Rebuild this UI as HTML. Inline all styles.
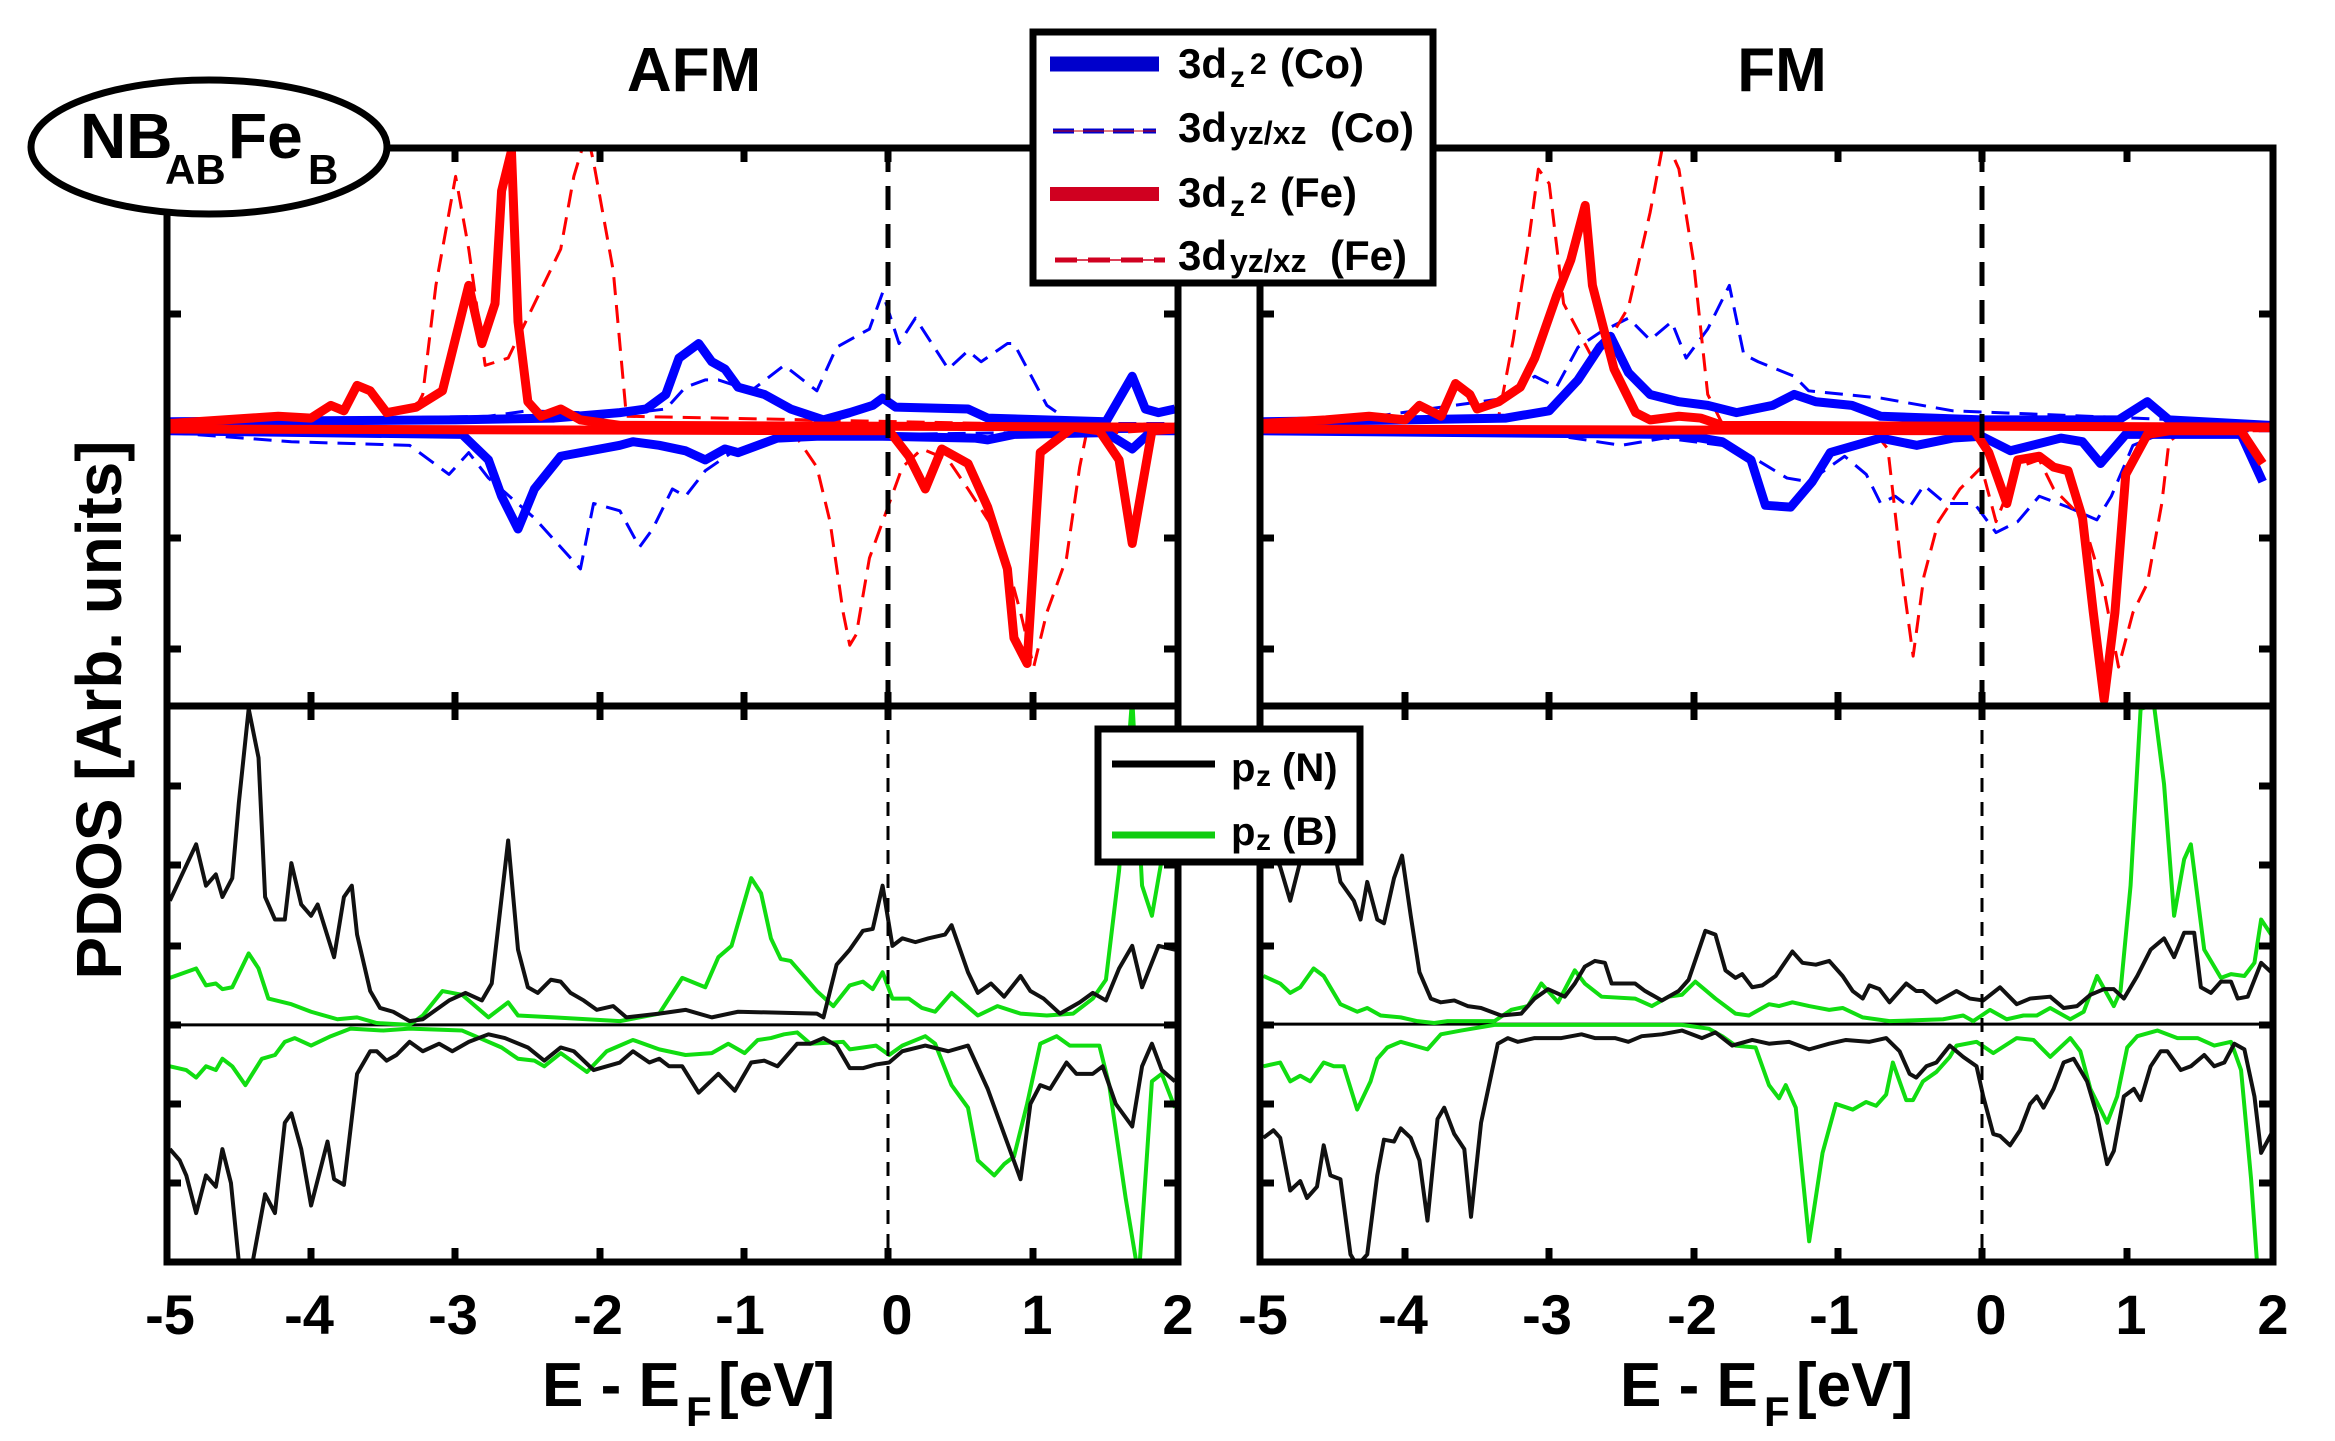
<!DOCTYPE html>
<html><head><meta charset="utf-8"><style>
html,body{margin:0;padding:0;background:#fff;}
svg{display:block;font-family:"Liberation Sans",Arial,sans-serif;font-weight:bold;}
</style></head><body>
<svg width="2335" height="1441" viewBox="0 0 2335 1441" xmlns="http://www.w3.org/2000/svg">
<defs>
<clipPath id="cA"><rect x="167" y="148" width="1011" height="558"/></clipPath>
<clipPath id="cB"><rect x="1260" y="148" width="1013" height="558"/></clipPath>
<clipPath id="cC"><rect x="167" y="706" width="1011" height="556"/></clipPath>
<clipPath id="cD"><rect x="1260" y="706" width="1013" height="556"/></clipPath>
</defs>
<rect width="2335" height="1441" fill="#fff"/>

<!-- AFM top -->
<g clip-path="url(#cA)"><g transform="translate(160,140) scale(0.6569,0.3635)" fill="none" stroke-linejoin="round">
<line x1="0" y1="790" x2="1568" y2="790" stroke="#000" stroke-width="2" vector-effect="non-scaling-stroke"/>
<polyline stroke="#00f" stroke-width="3" stroke-dasharray="18,10" vector-effect="non-scaling-stroke" points="15,775 500,760 560,745 640,750 700,755 770,740 800,680 830,660 850,660 900,690 950,620 1000,690 1030,570 1080,520 1100,420 1125,560 1150,490 1200,630 1230,580 1250,610 1290,560 1300,560 1350,730 1390,780 1440,780 1545,780"/>
<polyline stroke="#00f" stroke-width="3" stroke-dasharray="18,10" vector-effect="non-scaling-stroke" points="15,805 200,830 380,840 440,920 470,860 500,930 570,1040 600,1100 640,1180 660,1000 700,1020 730,1120 750,1070 780,960 800,980 830,910 870,860 920,830 960,820 1000,815 1100,810 1545,800"/>
<polyline stroke="#f00" stroke-width="3" stroke-dasharray="18,10" vector-effect="non-scaling-stroke" points="15,785 380,770 400,700 420,400 450,100 470,300 495,620 530,600 570,450 610,300 630,100 650,-20 660,60 690,360 710,760 1545,790"/>
<polyline stroke="#f00" stroke-width="3" stroke-dasharray="18,10" vector-effect="non-scaling-stroke" points="15,795 950,800 970,820 1000,900 1020,1050 1040,1300 1050,1390 1060,1360 1080,1150 1100,1050 1130,900 1160,850 1200,880 1230,960 1280,1100 1310,1300 1330,1450 1350,1300 1380,1150 1400,900 1410,810 1545,795"/>
<polyline stroke="#00f" stroke-width="9" vector-effect="non-scaling-stroke" points="15,775 450,770 600,765 700,750 740,740 770,700 790,600 820,560 840,610 860,630 880,680 920,700 960,740 1010,770 1050,750 1085,730 1100,710 1120,735 1230,740 1260,765 1440,775 1480,650 1500,740 1520,750 1545,740"/>
<polyline stroke="#00f" stroke-width="9" vector-effect="non-scaling-stroke" points="15,800 460,810 500,880 520,980 545,1070 570,960 610,870 700,840 720,830 760,840 800,855 830,880 860,850 880,860 940,820 1000,815 1100,815 1240,820 1260,825 1300,810 1440,805 1480,850 1510,800 1545,800"/>
<polyline stroke="#f00" stroke-width="9" vector-effect="non-scaling-stroke" points="15,780 180,760 230,765 260,730 280,745 300,675 320,690 345,750 390,735 430,690 470,400 490,560 510,450 520,140 535,30 545,500 560,720 580,760 610,740 640,770 700,785 1545,790"/>
<polyline stroke="#f00" stroke-width="9" vector-effect="non-scaling-stroke" points="15,795 1110,800 1140,870 1165,960 1190,850 1230,890 1260,1010 1290,1180 1300,1370 1320,1440 1340,860 1390,790 1430,800 1460,880 1480,1110 1510,800 1545,795"/>
</g></g>

<!-- FM top -->
<g clip-path="url(#cB)"><g transform="translate(1160,140) scale(0.7207,0.3635)" fill="none" stroke-linejoin="round">
<line x1="0" y1="790" x2="1568" y2="790" stroke="#000" stroke-width="2" vector-effect="non-scaling-stroke"/>
<polyline stroke="#00f" stroke-width="3" stroke-dasharray="18,10" vector-effect="non-scaling-stroke" points="140,775 300,760 480,710 520,650 550,680 580,570 610,530 650,490 680,550 710,500 730,600 760,520 790,400 810,590 830,610 880,650 900,690 1000,710 1100,745 1540,780"/>
<polyline stroke="#00f" stroke-width="3" stroke-dasharray="18,10" vector-effect="non-scaling-stroke" points="140,800 540,810 640,840 700,820 780,840 820,870 870,930 900,940 950,870 980,920 1000,1000 1020,980 1040,1010 1060,950 1090,1000 1130,1000 1160,1080 1190,1050 1220,980 1260,1010 1300,1045 1320,980 1350,840 1400,800 1540,800"/>
<polyline stroke="#f00" stroke-width="3" stroke-dasharray="18,10" vector-effect="non-scaling-stroke" points="140,780 470,760 490,550 510,300 525,80 540,120 560,450 600,600 620,560 650,460 680,200 700,-10 720,80 740,330 760,700 780,780 1540,790"/>
<polyline stroke="#f00" stroke-width="3" stroke-dasharray="18,10" vector-effect="non-scaling-stroke" points="140,795 990,800 1010,850 1030,1200 1045,1420 1060,1200 1080,1050 1110,960 1140,900 1160,1050 1190,900 1220,880 1240,960 1280,1040 1310,1240 1330,1450 1350,1300 1370,1220 1390,1000 1400,830 1420,800 1540,800"/>
<polyline stroke="#00f" stroke-width="9" vector-effect="non-scaling-stroke" points="140,775 340,770 480,765 540,745 580,660 610,570 625,540 650,640 680,700 720,720 760,730 800,750 850,730 880,700 910,720 960,730 1000,760 1140,770 1330,770 1370,720 1400,770 1540,785"/>
<polyline stroke="#00f" stroke-width="9" vector-effect="non-scaling-stroke" points="140,800 720,810 780,830 820,880 840,1005 875,1010 905,940 930,860 1000,820 1050,840 1100,820 1140,815 1180,855 1250,820 1280,830 1305,890 1340,810 1500,810 1530,940"/>
<polyline stroke="#f00" stroke-width="9" vector-effect="non-scaling-stroke" points="140,780 230,770 290,760 340,770 360,730 390,760 410,670 430,700 440,740 470,720 500,680 520,600 550,430 570,330 590,180 600,400 630,630 660,750 680,770 720,760 750,765 780,785 1540,790"/>
<polyline stroke="#f00" stroke-width="9" vector-effect="non-scaling-stroke" points="140,795 1130,800 1150,860 1175,1000 1190,880 1220,870 1240,900 1260,910 1280,1040 1295,1300 1310,1540 1325,1300 1340,920 1370,810 1400,800 1500,800 1530,890"/>
</g></g>

<!-- AFM bottom -->
<g clip-path="url(#cC)"><g transform="translate(160,690) scale(0.6569,0.3763)" fill="none" stroke-linejoin="round">
<line x1="0" y1="890" x2="1568" y2="890" stroke="#000" stroke-width="3" vector-effect="non-scaling-stroke"/>
<polyline stroke="#11dd11" stroke-width="4" vector-effect="non-scaling-stroke" points="15,765 55,740 70,785 85,780 95,795 110,790 135,700 150,740 165,820 200,835 230,855 270,875 300,870 330,885 380,890 400,865 430,800 460,810 500,870 530,830 545,865 600,870 700,880 760,860 795,765 830,790 850,710 870,680 900,500 915,540 930,660 945,715 960,720 1000,800 1025,840 1050,785 1070,775 1085,795 1100,750 1115,820 1140,820 1160,845 1180,855 1205,805 1245,865 1275,840 1310,860 1350,865 1390,860 1420,820 1440,770 1460,480 1480,20 1495,520 1510,600 1525,450 1545,470"/>
<polyline stroke="#11dd11" stroke-width="4" vector-effect="non-scaling-stroke" points="15,1000 40,1010 55,1030 70,1000 85,1010 95,980 110,1000 130,1050 155,980 175,970 190,935 205,925 230,945 260,920 290,900 340,905 380,900 460,905 480,920 520,950 545,980 570,985 585,1000 610,965 630,990 650,1015 680,960 720,930 760,955 800,970 840,965 865,940 890,965 910,930 930,925 950,915 970,910 990,940 1040,935 1050,955 1090,945 1110,970 1130,945 1165,920 1180,940 1205,1050 1230,1110 1245,1250 1270,1290 1285,1260 1300,1240 1320,1100 1340,940 1365,920 1385,945 1430,945 1445,1050 1470,1350 1490,1560 1500,1300 1510,1040 1525,1020 1545,1110"/>
<polyline stroke="#111" stroke-width="4" vector-effect="non-scaling-stroke" points="15,560 55,410 70,520 85,490 95,550 110,500 120,300 135,50 150,180 160,550 175,610 190,610 200,460 215,570 230,600 240,570 265,710 280,550 292,520 300,650 320,800 335,845 355,855 380,880 400,875 420,850 440,825 465,805 490,825 505,780 530,400 545,690 560,790 575,805 595,770 610,775 625,805 645,825 665,850 690,840 710,870 760,860 800,850 840,870 880,855 1000,860 1010,870 1030,730 1050,690 1070,640 1085,635 1100,520 1115,680 1130,660 1150,670 1170,660 1195,650 1205,625 1230,750 1245,805 1265,780 1285,815 1310,760 1325,800 1345,820 1370,860 1400,830 1420,805 1440,825 1460,740 1480,680 1495,790 1520,680 1545,690"/>
<polyline stroke="#111" stroke-width="4" vector-effect="non-scaling-stroke" points="15,1220 30,1250 40,1290 55,1390 70,1290 85,1320 95,1220 108,1310 120,1520 140,1530 160,1340 175,1390 190,1150 200,1125 215,1220 230,1370 255,1200 265,1300 280,1315 300,1020 320,960 330,960 345,985 360,970 380,935 400,960 425,940 445,960 470,935 500,915 525,925 560,950 585,985 610,950 630,960 660,1010 700,990 720,960 745,990 760,980 775,1000 795,1000 820,1070 850,1020 875,1065 900,990 920,985 940,1000 970,940 990,940 1010,925 1030,945 1050,1005 1070,1005 1090,995 1110,990 1130,960 1165,945 1200,960 1230,945 1260,1060 1285,1180 1310,1300 1325,1100 1340,1050 1355,1060 1380,990 1395,1020 1420,1020 1435,1000 1455,1100 1480,1160 1495,1000 1510,940 1525,1010 1545,1040"/>
</g></g>

<!-- FM bottom -->
<g clip-path="url(#cD)"><g transform="translate(1240,690) scale(0.6696,0.3763)" fill="none" stroke-linejoin="round">
<line x1="0" y1="888" x2="1568" y2="888" stroke="#000" stroke-width="3" vector-effect="non-scaling-stroke"/>
<polyline stroke="#11dd11" stroke-width="4" vector-effect="non-scaling-stroke" points="35,760 60,780 75,805 90,790 110,740 125,760 150,835 175,855 190,845 210,865 240,870 265,880 290,885 310,880 380,880 405,850 430,840 450,780 475,830 500,745 515,780 540,815 590,820 615,840 640,815 660,810 680,775 710,820 740,860 760,865 790,835 805,840 825,830 850,840 880,850 900,845 930,870 970,880 1050,875 1080,865 1095,880 1120,850 1145,875 1170,865 1190,865 1210,845 1240,875 1260,855 1280,760 1305,840 1315,800 1330,520 1345,50 1365,40 1380,250 1395,600 1410,450 1420,410 1440,690 1465,765 1480,755 1500,760 1515,725 1525,610 1540,650"/>
<polyline stroke="#11dd11" stroke-width="4" vector-effect="non-scaling-stroke" points="35,1000 60,990 75,1040 90,1025 105,1040 125,990 140,1000 155,1000 175,1115 195,1040 205,980 220,950 240,935 260,945 280,955 300,915 330,905 380,890 480,890 600,890 660,890 700,900 720,920 740,945 770,950 790,1050 805,1085 815,1050 830,1110 850,1465 870,1230 890,1100 915,1115 935,1095 950,1105 965,1075 975,990 995,1090 1005,1090 1020,1040 1040,1015 1060,975 1070,945 1100,935 1125,965 1160,925 1185,930 1210,975 1240,925 1255,960 1270,1060 1295,1150 1310,1080 1325,950 1340,920 1370,905 1400,925 1430,925 1455,945 1480,935 1495,1010 1510,1300 1520,1550"/>
<polyline stroke="#111" stroke-width="4" vector-effect="non-scaling-stroke" points="35,380 60,470 75,560 95,420 140,420 150,510 170,560 180,610 190,510 205,610 215,620 230,500 242,440 255,600 268,750 285,820 300,830 320,825 340,840 360,845 390,865 420,860 440,820 460,795 485,815 500,780 515,735 530,720 545,725 555,780 590,780 605,800 630,825 655,800 670,770 695,640 710,650 725,745 740,765 750,755 765,790 780,785 800,760 825,695 840,725 860,730 880,720 900,760 915,800 930,820 940,785 955,795 970,830 995,780 1010,800 1020,800 1040,830 1070,800 1090,820 1110,825 1135,790 1160,835 1180,820 1210,815 1230,845 1250,840 1270,810 1290,795 1305,795 1320,820 1340,760 1360,690 1380,660 1395,710 1410,645 1425,645 1435,790 1450,805 1465,775 1480,775 1490,820 1505,815 1525,725 1540,750"/>
<polyline stroke="#111" stroke-width="4" vector-effect="non-scaling-stroke" points="35,1190 50,1170 60,1190 75,1330 90,1305 100,1350 115,1320 125,1210 135,1290 150,1300 165,1500 175,1530 190,1500 205,1290 215,1195 230,1200 240,1165 255,1190 268,1250 280,1410 295,1140 305,1110 320,1180 335,1220 345,1400 360,1150 385,940 400,925 415,935 440,925 480,925 510,915 530,925 560,925 580,935 600,920 630,915 660,905 690,925 710,910 735,945 765,930 790,940 820,935 850,955 880,940 905,930 940,935 965,925 985,960 1000,1020 1010,1030 1025,1000 1040,990 1060,945 1080,975 1100,1000 1110,1080 1125,1180 1135,1185 1150,1210 1165,1170 1180,1100 1190,1080 1200,1110 1215,1060 1230,990 1245,980 1265,1040 1280,1130 1295,1260 1305,1225 1320,1080 1335,1060 1345,1090 1360,1000 1375,960 1385,960 1405,1010 1420,1000 1440,970 1455,1000 1470,990 1485,940 1500,955 1515,1080 1525,1230 1540,1180"/>
</g></g>

<!-- Fermi lines -->
<line x1="888" y1="148" x2="888" y2="706" stroke="#000" stroke-width="5" stroke-dasharray="24,14"/>
<line x1="1982" y1="148" x2="1982" y2="706" stroke="#000" stroke-width="5" stroke-dasharray="24,14"/>
<line x1="888" y1="706" x2="888" y2="1262" stroke="#000" stroke-width="3" stroke-dasharray="14,10"/>
<line x1="1982" y1="706" x2="1982" y2="1262" stroke="#000" stroke-width="3" stroke-dasharray="14,10"/>

<!-- ticks -->
<g stroke="#000" stroke-width="7">
<path d="M311,148v14M455,148v14M600,148v14M744,148v14M888,148v14M1033,148v14
M311,706v-14M455,706v-14M600,706v-14M744,706v-14M888,706v-14M1033,706v-14
M311,706v14M455,706v14M600,706v14M744,706v14M888,706v14M1033,706v14
M311,1262v-14M455,1262v-14M600,1262v-14M744,1262v-14M888,1262v-14M1033,1262v-14
M1405,148v14M1549,148v14M1694,148v14M1838,148v14M1982,148v14M2127,148v14
M1405,706v-14M1549,706v-14M1694,706v-14M1838,706v-14M1982,706v-14M2127,706v-14
M1405,706v14M1549,706v14M1694,706v14M1838,706v14M1982,706v14M2127,706v14
M1405,1262v-14M1549,1262v-14M1694,1262v-14M1838,1262v-14M1982,1262v-14M2127,1262v-14
M167,314h14M167,538h14M167,649h14M1178,314h-14M1178,538h-14M1178,649h-14
M1260,314h14M1260,538h14M1260,649h14M2273,314h-14M2273,538h-14M2273,649h-14
M167,786h14M167,865h14M167,946h14M167,1104h14M167,1183h14M167,1025h14
M1178,786h-14M1178,865h-14M1178,946h-14M1178,1104h-14M1178,1183h-14M1178,1025h-14
M1260,786h14M1260,865h14M1260,946h14M1260,1104h14M1260,1183h14M1260,1025h14
M2273,786h-14M2273,865h-14M2273,946h-14M2273,1104h-14M2273,1183h-14M2273,1025h-14"/>
</g>

<!-- frames -->
<g fill="none" stroke="#000" stroke-width="7">
<rect x="167" y="148" width="1011" height="1114"/>
<line x1="167" y1="706" x2="1178" y2="706"/>
<rect x="1260" y="148" width="1013" height="1114"/>
<line x1="1260" y1="706" x2="2273" y2="706"/>
</g>

<!-- ellipse label -->
<ellipse cx="209" cy="147" rx="178" ry="67" fill="#fff" stroke="#000" stroke-width="7"/>
<text x="80" y="158" font-size="64">NB</text>
<text x="165" y="184" font-size="42">AB</text>
<text x="228" y="158" font-size="64">Fe</text>
<text x="308" y="184" font-size="42">B</text>

<!-- titles -->
<text x="694" y="91" font-size="62" text-anchor="middle">AFM</text>
<text x="1782" y="91" font-size="62" text-anchor="middle">FM</text>

<!-- y label -->
<text transform="translate(121,710) rotate(-90)" font-size="64" text-anchor="middle" textLength="539" lengthAdjust="spacingAndGlyphs">PDOS [Arb. units]</text>

<!-- tick labels -->
<g font-size="56" text-anchor="middle">
<text x="170" y="1334">-5</text><text x="309" y="1334">-4</text><text x="453" y="1334">-3</text><text x="598" y="1334">-2</text><text x="740" y="1334">-1</text><text x="897" y="1334">0</text><text x="1037" y="1334">1</text><text x="1178" y="1334">2</text>
<text x="1263" y="1334">-5</text><text x="1403" y="1334">-4</text><text x="1547" y="1334">-3</text><text x="1692" y="1334">-2</text><text x="1834" y="1334">-1</text><text x="1991" y="1334">0</text><text x="2131" y="1334">1</text><text x="2273" y="1334">2</text>
</g>
<g font-size="62">
<text x="542" y="1406">E - E</text><text x="686" y="1426" font-size="42">F</text><text x="718" y="1406">[eV]</text>
<text x="1620" y="1406">E - E</text><text x="1764" y="1426" font-size="42">F</text><text x="1796" y="1406">[eV]</text>
</g>

<!-- legend 1 -->
<rect x="1033" y="32" width="400" height="251" fill="#fff" stroke="#000" stroke-width="7"/>
<line x1="1050" y1="64" x2="1159" y2="64" stroke="#0000cc" stroke-width="15"/>
<line x1="1053" y1="131" x2="1156" y2="131" stroke="#0000cc" stroke-width="5" stroke-dasharray="21,9"/>
<line x1="1053" y1="131" x2="1156" y2="131" stroke="#cc0000" stroke-width="1"/>
<line x1="1050" y1="194" x2="1159" y2="194" stroke="#d00020" stroke-width="14"/>
<line x1="1055" y1="260" x2="1165" y2="260" stroke="#d00020" stroke-width="5" stroke-dasharray="22,11"/>
<line x1="1055" y1="260" x2="1165" y2="260" stroke="#d00020" stroke-width="1.5"/>
<g font-size="42">
<text x="1178" y="78">3d</text><text x="1230" y="87" font-size="30">z</text><text x="1250" y="74" font-size="30">2</text><text x="1280" y="78">(Co)</text>
<text x="1178" y="142">3d</text><text x="1230" y="144" font-size="32">yz/xz</text><text x="1330" y="142">(Co)</text>
<text x="1178" y="207">3d</text><text x="1230" y="216" font-size="30">z</text><text x="1250" y="203" font-size="30">2</text><text x="1280" y="207">(Fe)</text>
<text x="1178" y="270">3d</text><text x="1230" y="272" font-size="32">yz/xz</text><text x="1330" y="270">(Fe)</text>
</g>

<!-- legend 2 -->
<rect x="1098" y="729" width="262" height="133" fill="#fff" stroke="#000" stroke-width="7"/>
<line x1="1112" y1="764" x2="1215" y2="764" stroke="#000" stroke-width="7"/>
<line x1="1112" y1="835" x2="1215" y2="835" stroke="#10cc10" stroke-width="7"/>
<g font-size="40">
<text x="1231" y="781">p</text><text x="1256" y="786" font-size="30">z</text><text x="1282" y="781">(N)</text>
<text x="1231" y="845">p</text><text x="1256" y="850" font-size="30">z</text><text x="1282" y="845">(B)</text>
</g>
</svg>
</body></html>
